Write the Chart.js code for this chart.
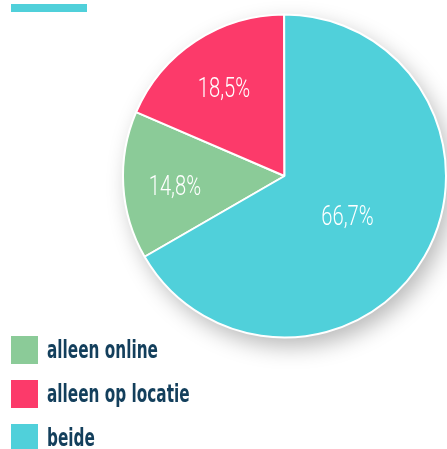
<!DOCTYPE html>
<html>
<head>
<meta charset="utf-8">
<script src="https://cdn.jsdelivr.net/npm/chart.js@4"></script>
<style>
  body { margin: 0; background: #fff; overflow: hidden; }
  .wrap { position: relative; width: 447px; height: 449px; }
  .topbar { position: absolute; left: 11px; top: 4px; width: 76px; height: 8px; background: #50d0da; }
  .legend { position: absolute; left: 11px; top: 336px; font-family: "DejaVu Sans Condensed", "DejaVu Sans", sans-serif; font-weight: bold; font-size: 25px; color: #133f5c; }
  .legend div { height: 44px; display: flex; align-items: flex-start; white-space: nowrap; }
  .legend span.box { display: inline-block; width: 27px; height: 28px; margin-right: 9px; flex: none; }
  .legend span.txt { display: inline-block; line-height: 28px; transform: scaleX(0.68); transform-origin: left center; }
</style>
</head>
<body>
<div class="wrap">
  <canvas id="myChart" width="447" height="449"></canvas>
  <div class="topbar"></div>
  <div class="legend" id="legend"></div>
</div>
<script>
let labels = ['alleen online', 'alleen op locatie', 'beide'];
let values = [14.8, 18.5, 66.7];
let bgColors = ['#8bcb98', '#fc3a6a', '#50d0da'];

// html legend
let legend = document.getElementById('legend');
labels.forEach((lab, i) => {
    let row = document.createElement('div');
    row.innerHTML = '<span class="box" style="background:' + bgColors[i] + '"></span><span class="txt">' + lab + '</span>';
    legend.appendChild(row);
});

// white disc with soft shadow behind the pie
const shadowPlugin = {
    id: 'pieShadow',
    beforeDatasetsDraw(chart) {
        let arc = chart.getDatasetMeta(0).data[0];
        let ctx = chart.ctx;
        ctx.save();
        ctx.shadowColor = 'rgba(0,0,0,0.28)';
        ctx.shadowBlur = 22;
        ctx.shadowOffsetX = 6;
        ctx.shadowOffsetY = 9;
        ctx.fillStyle = '#fff';
        ctx.beginPath();
        ctx.arc(arc.x, arc.y, arc.outerRadius, 0, Math.PI * 2);
        ctx.fill();
        ctx.restore();
    }
};

// percentage labels (narrowed to mimic the condensed face)
const labelPlugin = {
    id: 'pctLabels',
    afterDatasetsDraw(chart) {
        let ctx = chart.ctx;
        let meta = chart.getDatasetMeta(0);
        ctx.save();
        ctx.fillStyle = '#fff';
        ctx.font = '300 28px Roboto, "DejaVu Sans", sans-serif';
        ctx.textAlign = 'center';
        ctx.textBaseline = 'middle';
        meta.data.forEach((arc, i) => {
            let mid = (arc.startAngle + arc.endAngle) / 2;
            let big = (arc.endAngle - arc.startAngle) > Math.PI;
            let r = arc.outerRadius * (big ? 0.45 : 0.68);
            let x = arc.x + Math.cos(mid) * r;
            let y = arc.y + Math.sin(mid) * r + 6;
            ctx.save();
            ctx.translate(x, y);
            ctx.scale(0.72, 1);
            ctx.fillText(values[i].toFixed(1).replace('.', ',') + '%', 0, 0);
            ctx.restore();
        });
        ctx.restore();
    }
};

const myChart = new Chart(document.getElementById('myChart').getContext('2d'), {
    type: 'pie',
    data: {
        labels: labels,
        datasets: [{
            data: values,
            backgroundColor: bgColors,
            borderColor: '#fff',
            borderWidth: 2
        }]
    },
    options: {
        responsive: false,
        animation: false,
        rotation: 240,
        layout: { padding: { left: 122, top: 13, right: 0, bottom: 110 } },
        plugins: {
            legend: { display: false },
            tooltip: { enabled: false }
        }
    },
    plugins: [shadowPlugin, labelPlugin]
});
</script>
</body>
</html>
